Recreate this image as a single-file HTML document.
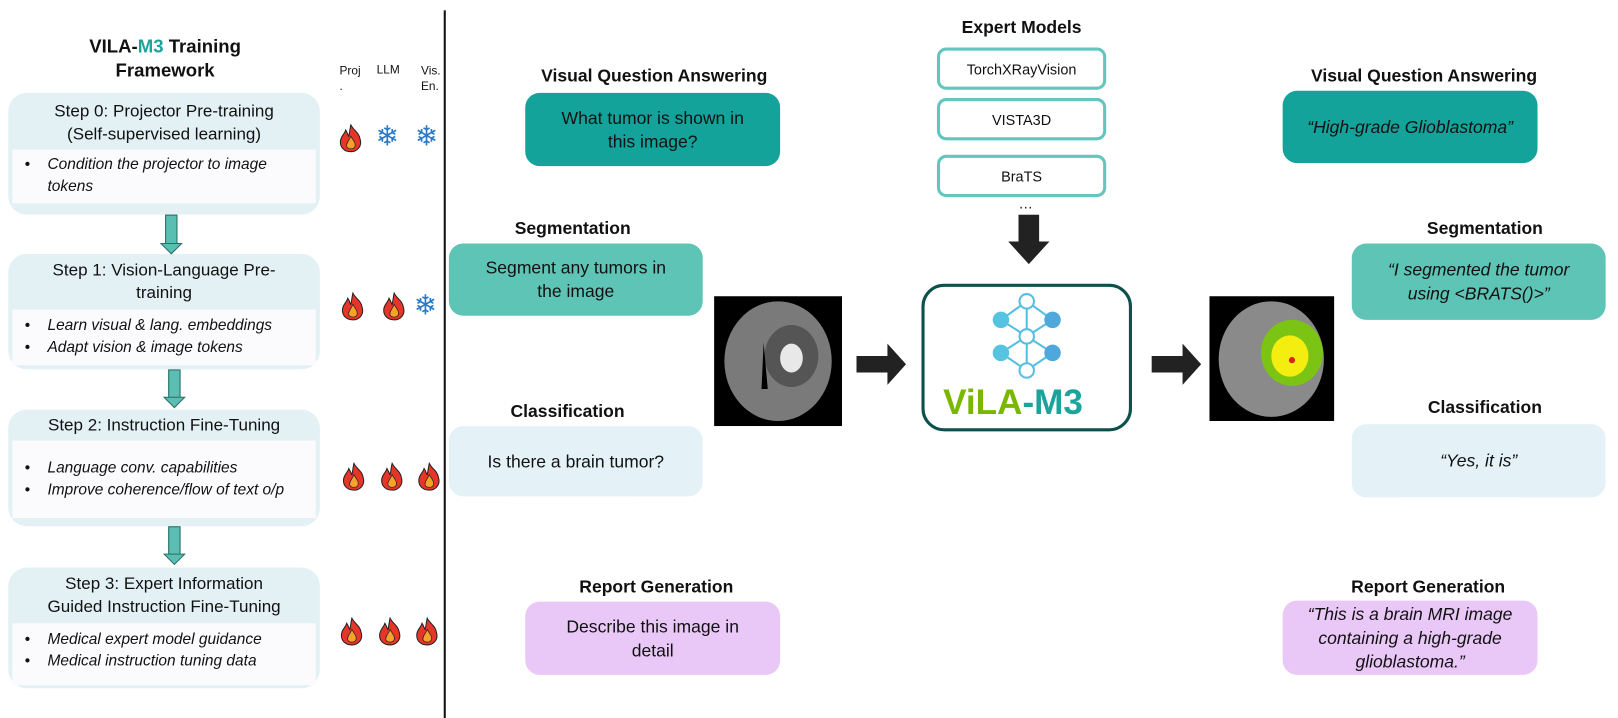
<!DOCTYPE html>
<html><head><meta charset="utf-8"><style>
body{margin:0;width:1618px;height:718px;background:#fff;position:relative;overflow:hidden;font-family:"Liberation Sans",Arial,sans-serif;color:#111}
#w{position:absolute;left:0;top:0;width:1568px;height:696px;transform:scale(1.0319);transform-origin:0 0}
.a{position:absolute}
.t{position:absolute;font-weight:bold;font-size:17px;text-align:center;white-space:nowrap;transform:translateX(-50%)}
.box{position:absolute;border-radius:14px;display:flex;align-items:center;justify-content:center;text-align:center;font-size:17px;line-height:23px}
.step{position:absolute;left:8px;width:302px;background:#e3f1f5;border-radius:18px}
.step .h{position:absolute;left:0;right:0;text-align:center;font-size:16.5px;line-height:22px}
.step .in{position:absolute;left:4px;right:4px;background:#fbfbfe;font-style:italic;font-size:15px;line-height:21px;box-sizing:border-box}
.in div{padding-left:34px;position:relative}
.in div:before{content:"•";position:absolute;left:12px;font-style:normal}
.em{position:absolute;left:908px;width:158px;height:35px;border:3px solid #62c6be;border-radius:9px;display:flex;align-items:center;justify-content:center;font-size:14px}
.snow{position:absolute;color:#2a78c8;font-family:"DejaVu Sans";font-size:27px;line-height:27px}
.dn{position:absolute;width:10px;background:#5abfb2;border:1px solid #2a6e66}
</style></head><body><div id="w">
<svg width="0" height="0" style="position:absolute"><defs>
<symbol id="fl" viewBox="0 0 24 28"><path d="M12 1 C14 6 20 8 21 15 C23 22 18 27 12 27 C6 27 1 23 2 16 C3 11 6 10 7 6 C9 9 9 11 10 12 C11 8 11 5 12 1Z" fill="#e8352a" stroke="#222" stroke-width="1"/><path d="M12 12 C14 16 17 18 16 22 C15 25 9 25 8 22 C7 19 10 17 12 12Z" fill="#f7a32b" stroke="#222" stroke-width=".7"/></symbol>
</defs></svg>

<div class="t" style="left:160px;top:34px;font-size:18px;line-height:23px">VILA-<span style="color:#1aa49c">M3</span> Training<br>Framework</div>
<div class="a" style="left:329px;top:62px;font-size:11.5px;line-height:15px">Proj<br>.</div>
<div class="a" style="left:365px;top:62px;font-size:11.5px">LLM</div>
<div class="a" style="left:408px;top:62px;font-size:11.5px;line-height:15px">Vis.<br>En.</div>

<div class="step" style="top:90px;height:118px"><div class="h" style="top:7px">Step 0: Projector Pre-training<br>(Self-supervised learning)</div>
<div class="in" style="top:55px;height:52px;padding-top:4px"><div>Condition the projector to image<br>tokens</div></div></div>

<div class="step" style="top:246px;height:112px"><div class="h" style="top:5px">Step 1: Vision-Language Pre-<br>training</div>
<div class="in" style="top:54px;height:54px;padding-top:5px"><div>Learn visual &amp; lang. embeddings</div><div>Adapt vision &amp; image tokens</div></div></div>

<div class="step" style="top:397px;height:113px"><div class="h" style="top:4px">Step 2: Instruction Fine-Tuning</div>
<div class="in" style="top:30px;height:75px;padding-top:16px"><div>Language conv. capabilities</div><div>Improve coherence/flow of text o/p</div></div></div>

<div class="step" style="top:550px;height:117px"><div class="h" style="top:5px">Step 3: Expert Information<br>Guided Instruction Fine-Tuning</div>
<div class="in" style="top:54px;height:60px;padding-top:5px"><div>Medical expert model guidance</div><div>Medical instruction tuning data</div></div></div>

<div class="dn" style="left:160px;top:208px;height:30px"></div>
<svg class="a" style="left:155px;top:235px" width="22" height="12"><path d="M1 1 L21 1 L11 11Z" fill="#5abfb2" stroke="#2a6e66"/></svg>
<div class="dn" style="left:163px;top:358px;height:28px"></div>
<svg class="a" style="left:158px;top:384px" width="22" height="12"><path d="M1 1 L21 1 L11 11Z" fill="#5abfb2" stroke="#2a6e66"/></svg>
<div class="dn" style="left:163px;top:510px;height:28px"></div>
<svg class="a" style="left:158px;top:536px" width="22" height="12"><path d="M1 1 L21 1 L11 11Z" fill="#5abfb2" stroke="#2a6e66"/></svg>

<svg class="a" style="left:328px;top:120px" width="24" height="28"><use href="#fl"/></svg>
<div class="snow" style="left:364px;top:119px">❄</div><div class="snow" style="left:402px;top:119px">❄</div>
<svg class="a" style="left:330px;top:283px" width="24" height="28"><use href="#fl"/></svg>
<svg class="a" style="left:370px;top:283px" width="24" height="28"><use href="#fl"/></svg>
<div class="snow" style="left:401px;top:283px">❄</div>
<svg class="a" style="left:331px;top:448px" width="24" height="28"><use href="#fl"/></svg>
<svg class="a" style="left:368px;top:448px" width="24" height="28"><use href="#fl"/></svg>
<svg class="a" style="left:404px;top:448px" width="24" height="28"><use href="#fl"/></svg>
<svg class="a" style="left:329px;top:598px" width="24" height="28"><use href="#fl"/></svg>
<svg class="a" style="left:366px;top:598px" width="24" height="28"><use href="#fl"/></svg>
<svg class="a" style="left:402px;top:598px" width="24" height="28"><use href="#fl"/></svg>

<div class="a" style="left:430px;top:10px;width:2px;height:686px;background:#111"></div>

<div class="t" style="left:634px;top:64px">Visual Question Answering</div>
<div class="box" style="left:509px;top:90px;width:247px;height:71px;background:#14a39a">What tumor is shown in<br>this image?</div>
<div class="t" style="left:555px;top:212px">Segmentation</div>
<div class="box" style="left:435px;top:236px;width:246px;height:70px;background:#5ec4b5">Segment any tumors in<br>the image</div>
<div class="t" style="left:550px;top:389px">Classification</div>
<div class="box" style="left:435px;top:413px;width:246px;height:68px;background:#e4f2f7">Is there a brain tumor?</div>
<div class="t" style="left:636px;top:559px">Report Generation</div>
<div class="box" style="left:509px;top:583px;width:247px;height:71px;background:#e9c8f7">Describe this image in<br>detail</div>

<svg class="a" style="left:692px;top:287px" width="124" height="126"><rect width="124" height="126" fill="#000"/><ellipse cx="62" cy="63" rx="52" ry="58" fill="#7a7a7a"/><ellipse cx="75" cy="58" rx="26" ry="30" fill="#555"/><ellipse cx="75" cy="60" rx="11" ry="14" fill="#e8e8e8"/><path d="M48 45 L52 90 L46 90Z" fill="#000"/></svg>
<svg class="a" style="left:830px;top:333px" width="50" height="40"><path d="M0 12 H30 V0 L48 20 L30 40 V28 H0Z" fill="#222"/></svg>

<div class="t" style="left:990px;top:17px">Expert Models</div>
<div class="em" style="top:46px">TorchXRayVision</div>
<div class="em" style="top:95px">VISTA3D</div>
<div class="em" style="top:150px">BraTS</div>
<div class="a" style="left:987px;top:189px;font-size:14px">…</div>
<svg class="a" style="left:977px;top:208px" width="40" height="48"><path d="M10 0 H30 V26 H40 L20 48 L0 26 H10Z" fill="#222"/></svg>

<div class="a" style="left:893px;top:275px;width:198px;height:137px;border:3px solid #0d504c;border-radius:22px"></div>
<svg class="a" style="left:950px;top:282px" width="90" height="90" stroke="#56bfe0" stroke-width="2" fill="none">
<path d="M45 10 L20 28 M45 10 L70 28 M20 28 L45 44 M70 28 L45 44 M20 28 L70 60 M70 28 L20 60 M20 60 L45 77 M70 60 L45 77 M45 10 L45 77 M20 60 L45 44 M70 60 L45 44"/>
<circle cx="45" cy="10" r="7" fill="#fff"/><circle cx="45" cy="44" r="7" fill="#fff"/><circle cx="45" cy="77" r="7" fill="#fff"/>
<circle cx="20" cy="28" r="8" fill="#56c4e0" stroke="none"/><circle cx="70" cy="28" r="8" fill="#4ea8dc" stroke="none"/><circle cx="20" cy="60" r="8" fill="#56c4e0" stroke="none"/><circle cx="70" cy="60" r="8" fill="#4ea8dc" stroke="none"/></svg>
<div class="a" style="left:914px;top:371px;font-size:34px;font-weight:bold;line-height:38px;white-space:nowrap"><span style="color:#7ab800">ViLA</span><span style="color:#1aa49c">-M3</span></div>

<svg class="a" style="left:1116px;top:333px" width="50" height="40"><path d="M0 12 H30 V0 L48 20 L30 40 V28 H0Z" fill="#222"/></svg>
<svg class="a" style="left:1172px;top:287px" width="121" height="121"><rect width="121" height="121" fill="#000"/><ellipse cx="60" cy="61" rx="51" ry="56" fill="#8a8a8a"/><ellipse cx="80" cy="55" rx="30" ry="32" fill="#7cc414"/><ellipse cx="78" cy="58" rx="18" ry="20" fill="#f4ee10"/><circle cx="80" cy="62" r="3" fill="#e02020"/></svg>

<div class="t" style="left:1380px;top:64px">Visual Question Answering</div>
<div class="box" style="left:1243px;top:88px;width:247px;height:70px;background:#14a39a;font-style:italic">“High-grade Glioblastoma”</div>
<div class="t" style="left:1439px;top:212px">Segmentation</div>
<div class="box" style="left:1310px;top:236px;width:246px;height:74px;background:#5ec4b5;font-style:italic">“I segmented the tumor<br>using &lt;BRATS()&gt;”</div>
<div class="t" style="left:1439px;top:385px">Classification</div>
<div class="box" style="left:1310px;top:411px;width:246px;height:71px;background:#e4f2f7;font-style:italic">“Yes, it is”</div>
<div class="t" style="left:1384px;top:559px">Report Generation</div>
<div class="box" style="left:1243px;top:582px;width:247px;height:72px;background:#e9c8f7;font-style:italic">“This is a brain MRI image<br>containing a high-grade<br>glioblastoma.”</div>
</div></body></html>
